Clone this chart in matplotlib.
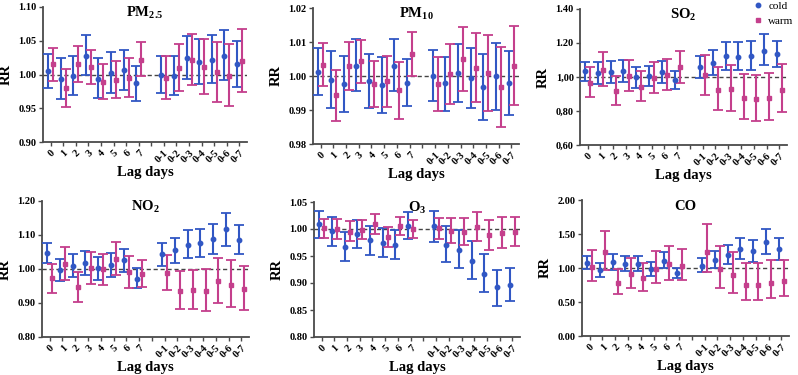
import matplotlib
matplotlib.use("Agg")
import matplotlib.pyplot as plt
from matplotlib.lines import Line2D
import numpy as np

lag_labels = ["0", "1", "2", "3", "4", "5", "6", "7", "",
              "0-1", "0-2", "0-3", "0-4", "0-5", "0-6", "0-7"]

# each series: (RR, lower, upper) for lags 0..7, 0-1..0-7
pm25_cold = [1.005, 0.994, 0.998, 1.028, 0.994, 1.002, 1.007, 0.987, 0.999, 0.998, 1.025, 1.019, 1.022, 1.028, 1.015]
pm25_cold_lo = [0.980, 0.964, 0.969, 0.999, 0.965, 0.973, 0.977, 0.961, 0.972, 0.969, 0.994, 0.986, 0.987, 0.992, 0.981]
pm25_cold_hi = [1.031, 1.025, 1.028, 1.058, 1.024, 1.033, 1.037, 1.013, 1.027, 1.027, 1.057, 1.053, 1.058, 1.066, 1.049]
pm25_warm = [1.015, 0.980, 1.015, 1.011, 0.989, 0.992, 0.995, 1.022, 0.995, 1.010, 1.021, 1.011, 1.003, 0.998, 1.020]
pm25_warm_lo = [0.991, 0.952, 0.989, 0.986, 0.963, 0.965, 0.966, 0.998, 0.964, 0.976, 0.984, 0.971, 0.960, 0.953, 0.974]
pm25_warm_hi = [1.040, 1.008, 1.042, 1.037, 1.016, 1.020, 1.025, 1.048, 1.027, 1.045, 1.060, 1.052, 1.048, 1.045, 1.068]

pm10_cold = [1.0013, 0.9989, 0.9976, 1.0030, 0.9986, 0.9974, 1.0030, 0.9980, 1.0000, 0.9978, 1.0010, 0.9995, 0.9967, 0.9999, 0.9978]
pm10_cold_lo = [0.9943, 0.9906, 0.9894, 0.9955, 0.9907, 0.9890, 0.9955, 0.9911, 0.9927, 0.9897, 0.9925, 0.9905, 0.9872, 0.9900, 0.9885]
pm10_cold_hi = [1.0082, 1.0073, 1.0058, 1.0109, 1.0064, 1.0055, 1.0109, 1.0051, 1.0076, 1.0057, 1.0094, 1.0082, 1.0064, 1.0098, 1.0073]
pm10_warm = [1.0033, 0.9943, 1.0029, 1.0044, 0.9976, 0.9985, 0.9958, 1.0065, 0.9976, 1.0006, 1.0049, 1.0025, 1.0010, 0.9967, 1.0030]
pm10_warm_lo = [0.9970, 0.9867, 0.9959, 0.9980, 0.9908, 0.9909, 0.9875, 1.0000, 0.9896, 0.9918, 0.9957, 0.9923, 0.9897, 0.9849, 0.9914]
pm10_warm_hi = [1.0097, 1.0018, 1.0100, 1.0107, 1.0043, 1.0060, 1.0041, 1.0128, 1.0056, 1.0094, 1.0143, 1.0126, 1.0120, 1.0085, 1.0148]

so2_cold = [1.033, 1.024, 1.030, 1.033, 1.000, 1.004, 1.030, 0.982, 1.057, 1.084, 1.122, 1.120, 1.122, 1.155, 1.133]
so2_cold_lo = [0.976, 0.961, 0.965, 0.969, 0.935, 0.945, 0.967, 0.931, 0.994, 1.014, 1.043, 1.041, 1.039, 1.069, 1.059]
so2_cold_hi = [1.088, 1.088, 1.094, 1.100, 1.061, 1.067, 1.094, 1.035, 1.122, 1.161, 1.204, 1.204, 1.212, 1.251, 1.214]
so2_warm = [0.965, 1.043, 0.920, 1.008, 0.941, 0.994, 1.012, 1.057, 1.010, 0.926, 0.927, 0.876, 0.869, 0.876, 0.925]
so2_warm_lo = [0.880, 0.949, 0.833, 0.918, 0.857, 0.906, 0.924, 0.967, 0.896, 0.806, 0.802, 0.753, 0.743, 0.745, 0.794]
so2_warm_hi = [1.059, 1.145, 1.006, 1.102, 1.033, 1.086, 1.106, 1.153, 1.131, 1.057, 1.071, 1.020, 1.012, 1.025, 1.075]

no2_cold = [1.047, 0.997, 1.010, 1.018, 1.002, 1.011, 1.026, 0.972, 1.043, 1.055, 1.072, 1.076, 1.087, 1.117, 1.086]
no2_cold_lo = [1.017, 0.965, 0.975, 0.983, 0.969, 0.977, 0.992, 0.943, 1.010, 1.018, 1.032, 1.036, 1.044, 1.068, 1.043]
no2_cold_hi = [1.076, 1.030, 1.043, 1.052, 1.035, 1.046, 1.060, 1.003, 1.077, 1.092, 1.115, 1.119, 1.132, 1.166, 1.130]
no2_warm = [0.973, 1.016, 0.946, 1.002, 0.999, 1.030, 0.990, 0.986, 0.988, 0.935, 0.938, 0.936, 0.964, 0.954, 0.942]
no2_warm_lo = [0.930, 0.969, 0.903, 0.957, 0.953, 0.982, 0.945, 0.947, 0.939, 0.883, 0.881, 0.876, 0.900, 0.889, 0.879]
no2_warm_hi = [1.014, 1.064, 0.990, 1.049, 1.044, 1.078, 1.037, 1.027, 1.040, 0.993, 0.998, 1.000, 1.032, 1.027, 1.010]

o3_cold = [1.009, 0.996, 0.967, 0.990, 0.979, 0.974, 0.971, 1.006, 1.005, 0.971, 0.961, 0.941, 0.917, 0.892, 0.897]
o3_cold_lo = [0.984, 0.969, 0.941, 0.964, 0.952, 0.948, 0.945, 0.982, 0.976, 0.939, 0.928, 0.907, 0.883, 0.858, 0.866]
o3_cold_hi = [1.034, 1.023, 0.994, 1.017, 1.005, 1.001, 0.999, 1.031, 1.034, 1.005, 0.999, 0.977, 0.953, 0.925, 0.928]
o3_warm = [1.001, 1.000, 0.995, 0.999, 1.009, 0.985, 1.006, 1.000, 1.002, 0.997, 0.995, 1.004, 0.989, 0.993, 0.995]
o3_warm_lo = [0.984, 0.982, 0.977, 0.981, 0.990, 0.967, 0.988, 0.984, 0.981, 0.974, 0.971, 0.977, 0.961, 0.965, 0.968]
o3_warm_hi = [1.019, 1.018, 1.014, 1.017, 1.027, 1.003, 1.023, 1.017, 1.021, 1.020, 1.020, 1.031, 1.017, 1.023, 1.022]

co_cold = [1.080, 0.966, 1.088, 1.064, 1.064, 0.980, 1.108, 0.926, 1.034, 1.123, 1.197, 1.275, 1.250, 1.388, 1.280]
co_cold_lo = [0.990, 0.867, 0.975, 0.956, 0.951, 0.877, 0.995, 0.848, 0.941, 1.005, 1.059, 1.128, 1.088, 1.206, 1.123]
co_cold_hi = [1.177, 1.069, 1.206, 1.182, 1.177, 1.084, 1.231, 1.005, 1.143, 1.256, 1.344, 1.437, 1.417, 1.575, 1.442]
co_warm = [1.020, 1.231, 0.785, 0.908, 0.850, 0.990, 1.054, 1.034, 1.241, 0.980, 0.892, 0.750, 0.750, 0.785, 0.815]
co_warm_lo = [0.810, 0.975, 0.620, 0.713, 0.664, 0.780, 0.830, 0.830, 0.946, 0.713, 0.630, 0.530, 0.525, 0.555, 0.594]
co_warm_hi = [1.265, 1.550, 0.990, 1.152, 1.074, 1.246, 1.325, 1.280, 1.644, 1.330, 1.236, 1.070, 1.070, 1.120, 1.120]

titles = ["PM$_{\\mathbf{2.5}}$", "PM$_{\\mathbf{10}}$", "SO$_{\\mathbf{2}}$",
          "NO$_{\\mathbf{2}}$", "O$_{\\mathbf{3}}$", "CO"]
yticks_list = [
    [0.90, 0.95, 1.00, 1.05, 1.10],
    [0.98, 0.99, 1.00, 1.01, 1.02],
    [0.60, 0.80, 1.00, 1.20, 1.40],
    [0.80, 0.90, 1.00, 1.10, 1.20],
    [0.80, 0.85, 0.90, 0.95, 1.00, 1.05],
    [0.00, 0.50, 1.00, 1.50, 2.00],
]
ytick_labels_list = [
    ["0.90", "0.95", "1.00", "1.05", "1.10"],
    ["0.98", "0.99", "1.00", "1.01", "1.02"],
    ["0,60", "0,80", "1,00", "1.20", "1.40"],
    ["0.80", "0.90", "1.00", "1.10", "1.20"],
    ["0.80", "0.85", "0.90", "0.95", "1.00", "1.05"],
    ["0.00", "0.50", "1.00", "1.50", "2.00"],
]
series_names = ["cold", "warm"]

data = [
    (pm25_cold, pm25_cold_lo, pm25_cold_hi, pm25_warm, pm25_warm_lo, pm25_warm_hi),
    (pm10_cold, pm10_cold_lo, pm10_cold_hi, pm10_warm, pm10_warm_lo, pm10_warm_hi),
    (so2_cold, so2_cold_lo, so2_cold_hi, so2_warm, so2_warm_lo, so2_warm_hi),
    (no2_cold, no2_cold_lo, no2_cold_hi, no2_warm, no2_warm_lo, no2_warm_hi),
    (o3_cold, o3_cold_lo, o3_cold_hi, o3_warm, o3_warm_lo, o3_warm_hi),
    (co_cold, co_cold_lo, co_cold_hi, co_warm, co_warm_lo, co_warm_hi),
]

plt.rcParams['font.family'] = ['Liberation Serif', 'DejaVu Serif']
plt.rcParams['mathtext.fontset'] = 'custom'
plt.rcParams['mathtext.rm'] = 'Liberation Serif'
plt.rcParams['mathtext.bf'] = 'Liberation Serif:bold'

W, H = 798, 375
fig = plt.figure(figsize=(W / 100, H / 100), dpi=100)

# axes boxes in pixels: left, top, width, height
boxes = [
    (43, 7, 204, 135),
    (313, 8, 206, 136),
    (580, 9, 207, 136),
    (42, 201, 207, 136),
    (314, 202, 206, 135),
    (582, 200, 207, 136),
]

cold_c = '#3157C4'
warm_c = '#C43F8C'
spine_c = '#4a4a4a'

xpos = np.array([0, 1, 2, 3, 4, 5, 6, 7, 9, 10, 11, 12, 13, 14, 15], dtype=float)

for i, (box, d) in enumerate(zip(boxes, data)):
    l, t, w, h = box
    ax = fig.add_axes([l / W, 1 - (t + h) / H, w / W, h / H])
    c, clo, chi, wv, wlo, whi = [np.array(a) for a in d]
    ax.errorbar(xpos - 0.2, c, yerr=[c - clo, chi - c], fmt='o', color=cold_c,
                ms=3.2, elinewidth=1.5, capsize=3.3, capthick=1.3, zorder=3)
    ax.errorbar(xpos + 0.2, wv, yerr=[wv - wlo, whi - wv], fmt='s', color=warm_c,
                ms=3.2, elinewidth=1.5, capsize=3.3, capthick=1.3, zorder=3)
    ax.axhline(1.0, color='#444444', ls=(0, (3, 2)), lw=1.0, zorder=2)
    ax.set_xlim(-0.6, 15.6)
    yt = yticks_list[i]
    ax.set_ylim(yt[0], yt[-1])
    ax.set_yticks(yt)
    ax.set_yticklabels(ytick_labels_list[i], fontsize=7.5, fontweight='bold')
    ax.set_xticks(np.arange(16))
    ax.set_xticklabels(lag_labels, rotation=45, ha='right', rotation_mode='anchor',
                       fontsize=7.5, fontweight='bold')
    for s in ['top', 'right']:
        ax.spines[s].set_visible(False)
    for s in ['left', 'bottom']:
        ax.spines[s].set_color(spine_c)
        ax.spines[s].set_linewidth(1.3)
    ax.tick_params(axis='both', direction='out', length=3, width=1.0, color=spine_c, pad=1.5)
    ax.set_ylabel('RR', fontsize=10.5, fontweight='bold', labelpad=4)
    ax.set_xlabel('Lag days', fontsize=10.5, fontweight='bold', labelpad=1)
    ax.text(0.5, 0.955, titles[i], transform=ax.transAxes, ha='center', va='center',
            fontsize=10.5, fontweight='bold')
    if i == 2:
        handles = [Line2D([], [], ls='none', marker='o', ms=3.2, color=cold_c),
                   Line2D([], [], ls='none', marker='s', ms=3.2, color=warm_c)]
        ax.legend(handles, series_names, loc='upper left',
                  bbox_to_anchor=(754 / W, 1 - 1 / H), bbox_transform=fig.transFigure,
                  frameon=False, fontsize=8, handlelength=0.8, handletextpad=0.5,
                  labelspacing=0.5, borderpad=0, borderaxespad=0)

fig.savefig('out.png', dpi=100)
